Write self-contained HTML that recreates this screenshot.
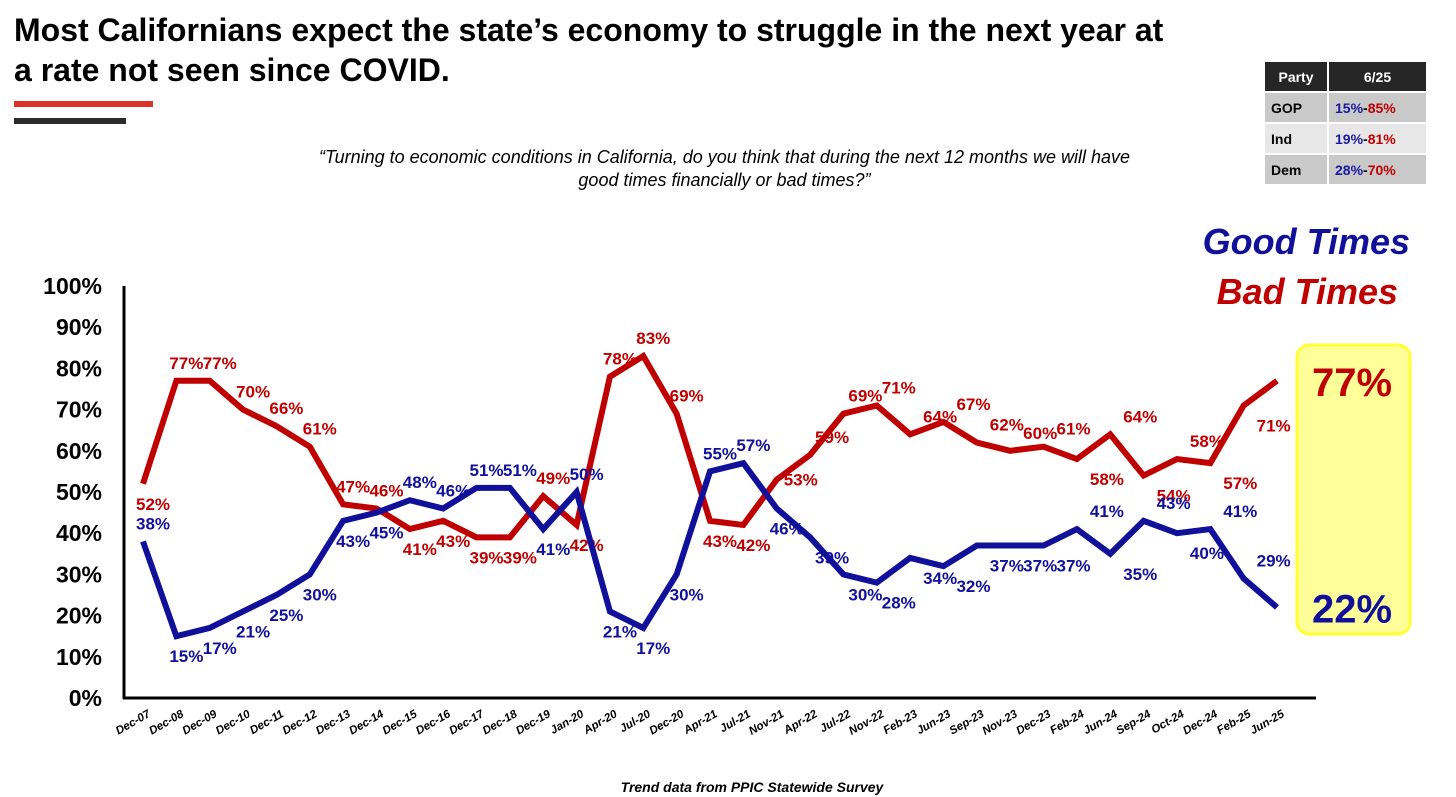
<!DOCTYPE html>
<html><head><meta charset="utf-8">
<style>
body{margin:0;width:1456px;height:797px;background:#fff;font-family:"Liberation Sans",sans-serif;overflow:hidden;position:relative}
.title{position:absolute;left:14px;top:10px;font-size:32px;font-weight:bold;line-height:40px;color:#000;width:1165px}
.q{position:absolute;left:307px;top:146px;width:835px;text-align:center;font-style:italic;font-size:18px;line-height:23px;color:#000}
table{position:absolute;left:1263px;top:60px;border-collapse:separate;border-spacing:2px;font-weight:bold;font-size:14px}
td{height:29px;padding:0 6px}
.foot{position:absolute;left:0;width:1504px;top:779px;text-align:center;font-style:italic;font-weight:bold;font-size:14px}
</style></head><body>
<div class="title">Most Californians expect the state’s economy to struggle in the next year at a rate not seen since COVID.</div>
<div style="position:absolute;left:14px;top:101px;width:139px;height:6px;background:#e0312b"></div>
<div style="position:absolute;left:14px;top:118px;width:112px;height:6px;background:#2b2b2b"></div>
<div class="q">“Turning to economic conditions in California, do you think that during the next 12 months we will have good times financially or bad times?”</div>
<table>
<tr><td style="background:#262626;color:#fff;width:50px;text-align:center">Party</td><td style="background:#262626;color:#fff;width:85px;text-align:center">6/25</td></tr>
<tr style="background:#c9c9c9"><td>GOP</td><td><span style="color:#1a1aa0">15%</span>-<span style="color:#c00000">85%</span></td></tr>
<tr style="background:#e7e7e7"><td>Ind</td><td><span style="color:#1a1aa0">19%</span>-<span style="color:#c00000">81%</span></td></tr>
<tr style="background:#c9c9c9"><td>Dem</td><td><span style="color:#1a1aa0">28%</span>-<span style="color:#c00000">70%</span></td></tr>
</table>
<svg id="chart" width="1456" height="797" style="position:absolute;left:0;top:0"></svg>
<div class="foot">Trend data from PPIC Statewide Survey</div>
<script>
const categories=["Dec-07","Dec-08","Dec-09","Dec-10","Dec-11","Dec-12","Dec-13","Dec-14","Dec-15","Dec-16","Dec-17","Dec-18","Dec-19","Jan-20","Apr-20","Jul-20","Dec-20","Apr-21","Jul-21","Nov-21","Apr-22","Jul-22","Nov-22","Feb-23","Jun-23","Sep-23","Nov-23","Dec-23","Feb-24","Jun-24","Sep-24","Oct-24","Dec-24","Feb-25","Jun-25"];
const goodTimes=[38,15,17,21,25,30,43,45,48,46,51,51,41,50,21,17,30,55,57,46,39,30,28,34,32,37,37,37,41,35,43,40,41,29,22];
const badTimes=[52,77,77,70,66,61,47,46,41,43,39,39,49,42,78,83,69,43,42,53,59,69,71,64,67,62,60,61,58,64,54,58,57,71,77];
const yTicks=[0,10,20,30,40,50,60,70,80,90,100];
const goodPlace="a"+"bbbbbbb"+"aaaa"+"b"+"a"+"bbb"+"aa"+"bbbbbbbbb"+"a"+"b"+"a"+"b"+"a"+"a"+"x";
const badPlace="b"+"aaaaaaa"+"bbbb"+"a"+"b"+"aaa"+"bb"+"r"+"aaaaaaaa"+"b"+"a"+"b"+"a"+"b"+"b"+"x";
const svg=document.getElementById('chart');const NS="http://www.w3.org/2000/svg";
const X0=143,X1=1277,Y0=698,Y1=286;
const x=i=>X0+(X1-X0)*i/(categories.length-1);
const y=v=>Y0-(Y0-Y1)*v/100;
function mk(t,a,txt){const e=document.createElementNS(NS,t);for(const k in a)e.setAttribute(k,a[k]);if(txt!==undefined)e.textContent=txt;svg.appendChild(e);return e;}
let hb=mk('rect',{x:1297,y:345,width:113,height:289,rx:12,fill:'#ffff99',stroke:'#ffff33','stroke-width':3});


let ya=mk('line',{x1:124,y1:286,x2:124,y2:699,stroke:'#000','stroke-width':3});


let xa=mk('line',{x1:123,y1:698,x2:1316,y2:698,stroke:'#000','stroke-width':3});


yTicks.forEach(v=>{let t=mk('text',{x:102,y:y(v)+8,'text-anchor':'end','font-size':23,'font-weight':'bold',fill:'#000'},v+'%');

});
categories.forEach((c,i)=>{let t=mk('text',{transform:`translate(${x(i)+8},${716}) rotate(-30)`,'text-anchor':'end','font-size':11.5,'font-weight':'bold','font-style':'italic',fill:'#000'},c);

});
function labelShift(i){return i<20?10:(i<23?22:30);}
function series(vals,col,place,name){
 let p=mk('polyline',{points:vals.map((v,i)=>x(i)+','+y(v)).join(' '),fill:'none',stroke:col,'stroke-width':6,'stroke-linejoin':'miter'});
 
 
 vals.forEach((v,i)=>{if(i===vals.length-1)return;const pl=place[i];
  let dx=pl==='r'?24:labelShift(i),dy=pl==='a'?-12:(pl==='b'?26:6);
  let t=mk('text',{x:x(i)+dx,y:y(v)+dy,'text-anchor':'middle','font-size':17,'font-weight':'bold',fill:col},v+'%');
  
  });
 const last=vals.length-1;
 let t=mk('text',{x:1352,y:y(vals[last])+15,'text-anchor':'middle','font-size':40,'font-weight':'bold',fill:col},vals[last]+'%');
 
 
}
series(badTimes,'#c00000',badPlace,'bad-times');
series(goodTimes,'#10109a',goodPlace,'good-times');
let lg=mk('text',{x:1410,y:254,'text-anchor':'end','font-size':36,'font-weight':'bold','font-style':'italic',fill:'#10109a'},'Good Times');


let lb=mk('text',{x:1398,y:304,'text-anchor':'end','font-size':36,'font-weight':'bold','font-style':'italic',fill:'#c00000'},'Bad Times');


</script>
</body></html>
